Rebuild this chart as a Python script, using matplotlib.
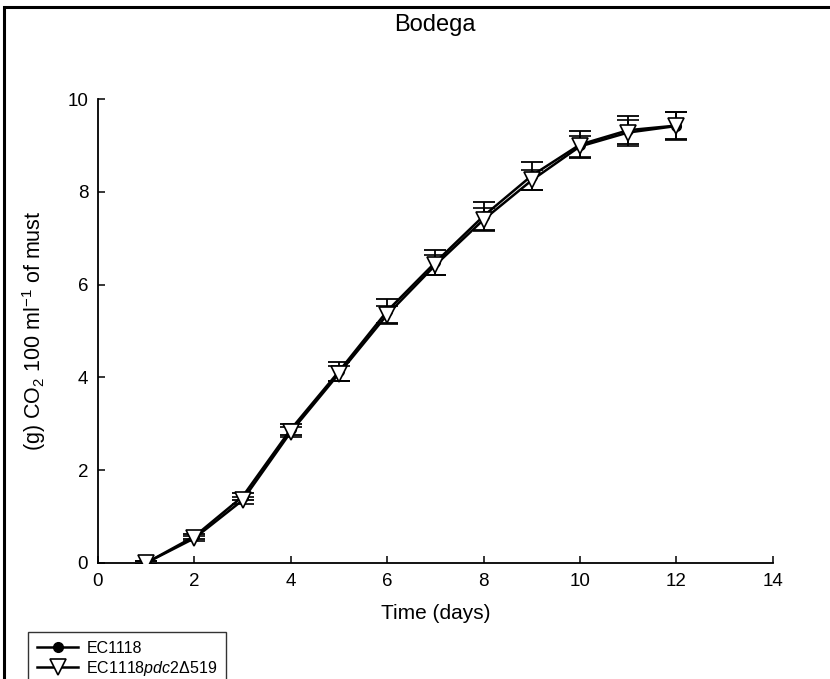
import numpy as np
import matplotlib.pyplot as plt
from matplotlib.patches import Rectangle

plt.rcParams['font.family'] = ['Liberation Sans', 'DejaVu Sans']
plt.rcParams['mathtext.fontset'] = 'custom'
plt.rcParams['mathtext.rm'] = 'Liberation Sans'
plt.rcParams['mathtext.it'] = 'Liberation Sans:italic'

# Data
days = [1, 2, 3, 4, 5, 6, 7, 8, 9, 10, 11, 12]
ec1118 = [0.0, 0.57, 1.43, 2.88, 4.13, 5.43, 6.48, 7.48, 8.35, 9.02, 9.33, 9.43]
ec1118_err = [0.03, 0.06, 0.08, 0.12, 0.2, 0.25, 0.27, 0.3, 0.3, 0.3, 0.3, 0.3]
pdc2 = [0.0, 0.53, 1.35, 2.82, 4.08, 5.35, 6.42, 7.4, 8.25, 8.98, 9.28, 9.42]
pdc2_err = [0.03, 0.05, 0.07, 0.1, 0.16, 0.2, 0.22, 0.25, 0.22, 0.22, 0.28, 0.3]

fig = plt.figure(figsize=(8.3, 6.79), dpi=100)
ax = fig.add_axes([0.118, 0.171, 0.813, 0.683])

eb1 = ax.errorbar(days, ec1118, yerr=ec1118_err, color='black', marker='o', markersize=7,
                  markerfacecolor='black', markeredgecolor='black', linewidth=1.8,
                  capsize=8, elinewidth=1.3, capthick=1.3, label='EC1118', zorder=3)
eb2 = ax.errorbar(days, pdc2, yerr=pdc2_err, color='black', marker='v', markersize=11,
                  markerfacecolor='white', markeredgecolor='black', markeredgewidth=1.2,
                  linewidth=1.8, capsize=8, elinewidth=1.3, capthick=1.3,
                  label='EC1118$\\it{pdc2\\Delta519}$', zorder=4)

ax.set_xlim(0, 14)
ax.set_ylim(0, 10)
ax.set_xticks(np.arange(0, 15, 2))
ax.set_yticks(np.arange(0, 11, 2))
ax.spines['top'].set_visible(False)
ax.spines['right'].set_visible(False)
for s in ['left', 'bottom']:
    ax.spines[s].set_linewidth(1.3)
ax.tick_params(direction='in', length=5, width=1.1, labelsize=13.5, pad=7)

ax.set_xlabel('Time (days)', fontsize=15, labelpad=10)
ax.set_ylabel('(g) CO$_2$ 100 ml$^{-1}$ of must', fontsize=15.5, labelpad=14)
fig.text(0.524, 0.963, 'Bodega', fontsize=17, ha='center', va='center')

# legend shows only line + marker, no error bars
leg = fig.legend(handles=[eb1[0], eb2[0]], labels=[eb1.get_label(), eb2.get_label()],
                 loc='upper left', bbox_to_anchor=(28 / 830, 1 - 632 / 679),
                 fontsize=11.5, frameon=True, fancybox=False, edgecolor='black',
                 borderpad=0.55, handlelength=2.6, handletextpad=0.5,
                 labelspacing=0.2, borderaxespad=0)
leg.get_frame().set_linewidth(1.0)

# outer frame around the figure
fig.add_artist(Rectangle((0.005, -0.1), 1.2, 1.0897, transform=fig.transFigure,
                         fill=False, edgecolor='black', linewidth=2.2))

fig.savefig('out.png', dpi=100)
